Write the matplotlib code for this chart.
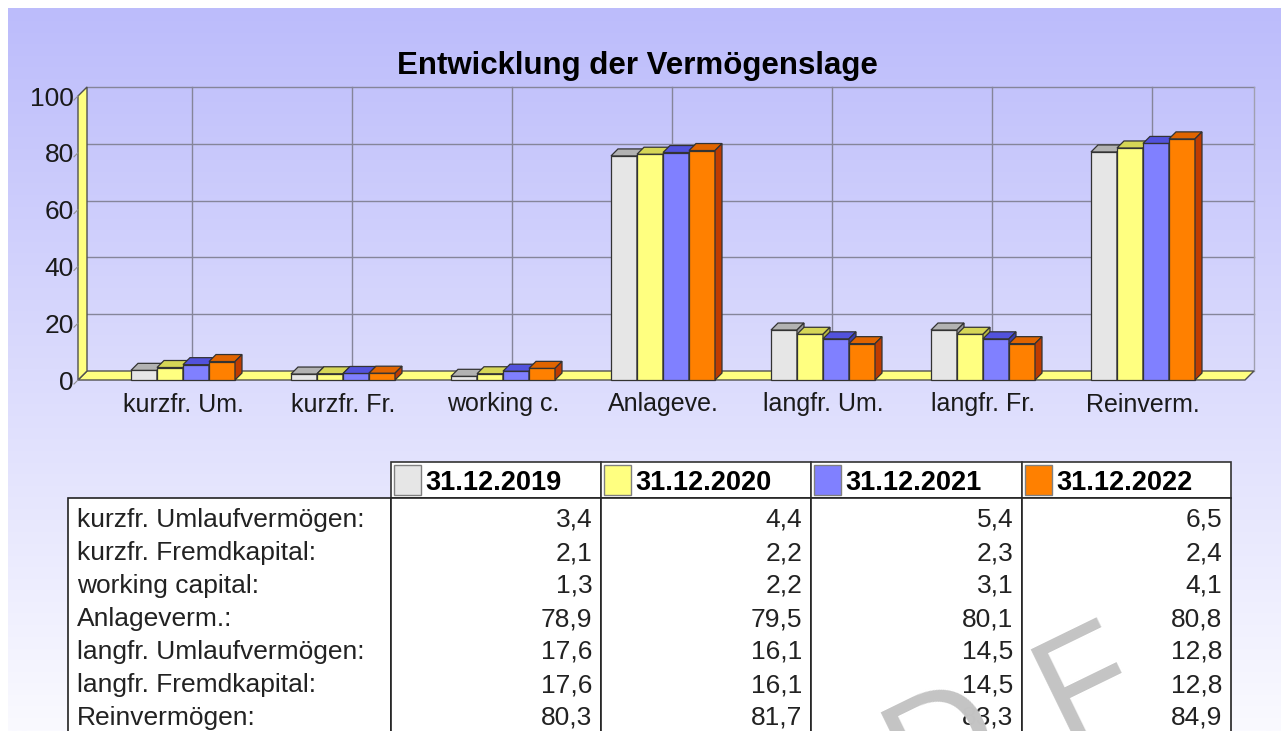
import numpy as np
import matplotlib
matplotlib.use("Agg")
import matplotlib.pyplot as plt
from matplotlib.patches import Polygon, Rectangle

plt.rcParams['font.family'] = ['Liberation Sans', 'DejaVu Sans']

# Data
categories = ['kurzfr. Um.', 'kurzfr. Fr.', 'working c.', 'Anlageve.',
              'langfr. Um.', 'langfr. Fr.', 'Reinverm.']
row_labels = ['kurzfr. Umlaufvermögen:', 'kurzfr. Fremdkapital:', 'working capital:',
              'Anlageverm.:', 'langfr. Umlaufvermögen:', 'langfr. Fremdkapital:',
              'Reinvermögen:']
dates = ['31.12.2019', '31.12.2020', '31.12.2021', '31.12.2022']
v2019 = [3.4, 2.1, 1.3, 78.9, 17.6, 17.6, 80.3]
v2020 = [4.4, 2.2, 2.2, 79.5, 16.1, 16.1, 81.7]
v2021 = [5.4, 2.3, 3.1, 80.1, 14.5, 14.5, 83.3]
v2022 = [6.5, 2.4, 4.1, 80.8, 12.8, 12.8, 84.9]
series = [v2019, v2020, v2021, v2022]
yticks = [0, 20, 40, 60, 80, 100]

# 3d-ish colours: front, top, side
front_c = ['#e6e6e6', '#ffff80', '#8080ff', '#ff8000']
top_c = ['#b2b2b2', '#d6d656', '#5252dc', '#e06400']
side_c = ['#9a9a9a', '#b8b840', '#3c3cb4', '#c03c00']
edge = '#333333'

W, H = 1281, 731
fig = plt.figure(figsize=(W / 100, H / 100), dpi=100, facecolor='white')

# background gradient (white strip left/top)
bg = fig.add_axes([8 / W, 0, 1 - 8 / W, 1 - 8 / H], zorder=-10)
t = np.linspace(0, 1, 256)[:, None, None]
c0 = np.array([188, 188, 251]) / 255
c1 = np.array([250, 250, 255]) / 255
bg.imshow(c0 + (c1 - c0) * t, aspect='auto', extent=[0, 1, 0, 1])
bg.axis('off')

# chart axes: front plane, 160 px per category, 2.84 px per unit
px_cat, px_val = 160.0, 2.84
x_left, x_right, y_top = -0.65625, 6.75, 104
ax = fig.add_axes([78 / W, (H - 380) / H, (x_right - x_left) * px_cat / W, y_top * px_val / H])
ax.set_xlim(x_left, x_right)
ax.set_ylim(0, y_top)
ax.patch.set_alpha(0)
for s in ax.spines.values():
    s.set_visible(False)

dxw, dyw = 9 / px_cat, 9 / px_val      # wall / floor depth
dxb, dyb = 7 / px_cat, 7 / px_val      # bar depth
fx0, fx1 = x_left, 6.6375
grid_c = '#85859a'

# back wall grid
for v in yticks[1:]:
    ax.plot([fx0 + dxw, fx1 + dxw], [v + dyw] * 2, color=grid_c, lw=1, zorder=1, clip_on=False)
for i in range(len(categories)):
    ax.plot([i + dxw] * 2, [dyw, 100 + dyw], color=grid_c, lw=1, zorder=1, clip_on=False)
ax.plot([fx1 + dxw] * 2, [dyw, 100 + dyw], color='#a0a0b0', lw=1, zorder=1, clip_on=False)

# floor and left wall
ax.add_patch(Polygon([(fx0, 0), (fx1, 0), (fx1 + dxw, dyw), (fx0 + dxw, dyw)],
                     fc='#ffff80', ec='#505050', lw=1, zorder=2, clip_on=False))
ax.add_patch(Polygon([(fx0, 0), (fx0 + dxw, dyw), (fx0 + dxw, 100 + dyw), (fx0, 100)],
                     fc='#ffff80', ec='#505050', lw=1, zorder=2, clip_on=False))
for v in yticks:
    ax.plot([fx0 - 4 / px_cat, fx0], [v - 4 / px_val, v], color='#909090', lw=0.8, zorder=3, clip_on=False)

# bars
w = 26 / px_cat
x = np.arange(len(categories))
for j, vals in enumerate(series):
    bars = ax.bar(x - 2 * w + j * w, vals, width=w, align='edge', color=front_c[j],
                  edgecolor=edge, linewidth=0.9, zorder=10 + 2 * j, clip_on=False)
    for b in bars:
        bx, bw, bh = b.get_x(), b.get_width(), b.get_height()
        ax.add_patch(Polygon([(bx, bh), (bx + bw, bh), (bx + bw + dxb, bh + dyb), (bx + dxb, bh + dyb)],
                             fc=top_c[j], ec=edge, lw=0.9, zorder=11 + 2 * j, clip_on=False))
        ax.add_patch(Polygon([(bx + bw, 0), (bx + bw + dxb, dyb), (bx + bw + dxb, bh + dyb), (bx + bw, bh)],
                             fc=side_c[j], ec=edge, lw=0.9, zorder=11 + 2 * j, clip_on=False))

ax.set_xticks(x, categories)
ax.set_yticks(yticks)
ax.tick_params(axis='x', length=0, pad=9, labelsize=18, labelcolor='#1a1a1a')
ax.tick_params(axis='y', length=0, pad=3, labelsize=19, labelcolor='#1a1a1a')

fig.text(637 / W, 1 - 66 / H, 'Entwicklung der Vermögenslage', ha='center', va='center',
         fontsize=22.5, fontweight='bold', color='black')

# table (pixel-like coordinates)
tab = fig.add_axes([0, 0, 1, 1], zorder=5)
tab.set_xlim(0, W)
tab.set_ylim(H, 0)
tab.axis('off')
cols = [68, 391, 601, 811, 1022, 1231]
h_top, h_bot = 462, 498

tab.add_patch(Rectangle((cols[0], h_bot), cols[1] - cols[0], H + 10 - h_bot,
                        fc='white', ec='#222222', lw=1.2, clip_on=False))
for k, d in enumerate(dates):
    cx = cols[k + 1]
    cw = cols[k + 2] - cx
    tab.add_patch(Rectangle((cx, h_top), cw, h_bot - h_top, fc='white', ec='#333333', lw=1.2))
    tab.add_patch(Rectangle((cx, h_bot), cw, H + 10 - h_bot, fc='white', ec='#222222', lw=1.2, clip_on=False))
    tab.add_patch(Rectangle((cx + 3, 465), 27, 30, fc=front_c[k], ec='#808080', lw=1))
    tab.text(cx + 34, 490, d, ha='left', va='baseline', fontsize=19.5, fontweight='bold', color='black')

for r, lab in enumerate(row_labels):
    yb = 527 + 33 * r
    tab.text(cols[0] + 9, yb, lab, ha='left', va='baseline', fontsize=19, color='#222222')
    for k, vals in enumerate(series):
        txt = f'{vals[r]:.1f}'.replace('.', ',')
        tab.text(cols[k + 2] - 8.5, yb, txt, ha='right', va='baseline', fontsize=19, color='#222222')

# grey watermark letters at the bottom right (cut off by the page edge, as in the source)
wm = dict(fontsize=108, color='#c4c4c4', rotation=26, rotation_mode='anchor',
          va='baseline', zorder=50, clip_on=False)
tab.text(1011, 758, 'D', ha='right', **wm)
tab.text(1064, 742, 'F', ha='left', **wm)

fig.savefig('out.png', dpi=100, facecolor='white')
